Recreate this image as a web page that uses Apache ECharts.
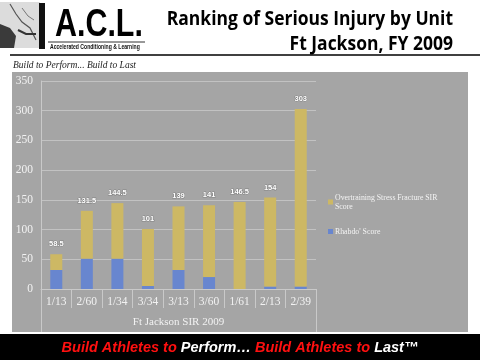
<!DOCTYPE html>
<html><head><meta charset="utf-8">
<script src="https://cdn.jsdelivr.net/npm/echarts@6/dist/echarts.min.js"></script>
<style>html,body{margin:0;padding:0;background:#fff}#c{width:480px;height:360px}</style>
</head><body><div id="c"></div>
<script>
const categories = ['1/13', '2/60', '1/34', '3/34', '3/13', '3/60', '1/61', '2/13', '2/39'];
const rhabdoScore = [32, 51, 51, 5, 32, 20, 0, 4, 4];
const overtrainingScore = [26.5, 80.5, 93.5, 96, 107, 121, 146.5, 150, 299];
const totalLabels = ['58.5', '131.5', '144.5', '101', '139', '141', '146.5', '154', '303'];
const groupLabel = ['Ft Jackson SIR 2009'];
const seriesNames = ['Overtraining Stress Fracture SIR Score', "Rhabdo' Score"];

const chart = echarts.init(document.getElementById('c'), null, {renderer: 'canvas'});
const lightLine = '#c9c9c9';
const serif = '"Liberation Serif", "DejaVu Serif", serif';

chart.setOption({
  backgroundColor: '#ffffff',
  animation: false,
  grid: {left: 41, right: 164, top: 81, bottom: 71, containLabel: false},
  legend: {
    orient: 'vertical', left: 323, top: 188, itemGap: 16,
    itemWidth: 5, itemHeight: 5, icon: 'rect',
    data: seriesNames,
    formatter: function (n) { return n === seriesNames[0] ? 'Overtraining Stress Fracture SIR\nScore' : n; },
    textStyle: {color: '#f4f4f4', fontSize: 7.8, lineHeight: 9, fontFamily: serif, padding: [0, 0, 0, -3]}
  },
  xAxis: [{
    type: 'category', data: categories, position: 'bottom',
    axisLine: {show: true, lineStyle: {color: lightLine, width: 1}},
    axisTick: {show: true, length: 19, lineStyle: {color: lightLine}},
    axisLabel: {color: '#f2f2f2', fontSize: 11.5, fontFamily: serif, margin: 7}
  }, {
    type: 'category', data: groupLabel, position: 'bottom',
    axisLine: {show: false},
    axisTick: {show: true, length: 43, lineStyle: {color: lightLine}},
    axisLabel: {color: '#f2f2f2', fontSize: 11, fontFamily: serif, margin: 28},
    splitLine: {show: false}
  }],
  yAxis: {
    type: 'value', min: 0, max: 350, interval: 50,
    axisLine: {show: true, lineStyle: {color: lightLine}},
    axisTick: {show: false},
    splitLine: {lineStyle: {color: '#c2c2c2', width: 1}},
    axisLabel: {color: '#f2f2f2', fontSize: 11.5, fontFamily: serif, margin: 8}
  },
  series: [{
    name: seriesNames[1], type: 'bar', stack: 'sir', data: rhabdoScore,
    barWidth: 12, itemStyle: {color: '#6886cf'}
  }, {
    name: seriesNames[0], type: 'bar', stack: 'sir', data: overtrainingScore,
    barWidth: 12, itemStyle: {color: '#cdb864'},
    label: {
      show: true, position: 'top', distance: 6,
      formatter: function (p) { return totalLabels[p.dataIndex]; },
      color: '#ffffff', fontSize: 7.5, fontWeight: 'bold',
      fontFamily: '"Liberation Sans", Arial, sans-serif',
      textBorderColor: 'rgba(90,90,90,0.45)', textBorderWidth: 1
    }
  }],
  graphic: [
    {type: 'rect', z: -100, shape: {x: 12, y: 72, width: 456, height: 260}, style: {fill: '#a5a5a5'}},
    {type: 'rect', z: 10, shape: {x: 0, y: 334, width: 480, height: 26}, style: {fill: '#000000'}},
    {type: 'text', z: 11, x: 240, y: 348, style: {
      text: '{r|Build Athletes to }{w|Perform… }{r|Build Athletes to }{w|Last™}',
      align: 'center', verticalAlign: 'middle',
      rich: {
        r: {fill: '#ff1010', font: 'italic bold 14.5px "Liberation Sans", Arial, sans-serif'},
        w: {fill: '#ffffff', font: 'italic bold 14.5px "Liberation Sans", Arial, sans-serif'}
      }
    }},
    {type: 'line', shape: {x1: 10, y1: 55, x2: 480, y2: 55}, style: {stroke: '#000', lineWidth: 1.5}},
    {type: 'text', x: 453, y: 20, scaleX: 0.92, style: {text: 'Ranking of Serious Injury by Unit', align: 'right', verticalAlign: 'middle',
      fill: '#000', font: 'bold 19px "Open Sans", "Noto Sans", sans-serif'}},
    {type: 'text', x: 453, y: 45, scaleX: 0.92, style: {text: 'Ft Jackson, FY 2009', align: 'right', verticalAlign: 'middle',
      fill: '#000', font: 'bold 19px "Open Sans", "Noto Sans", sans-serif'}},
    {type: 'text', x: 13, y: 65, style: {text: 'Build to Perform... Build to Last', align: 'left', verticalAlign: 'middle',
      fill: '#222', font: 'italic 9.5px "Liberation Serif", serif'}},
    {type: 'text', x: 55, y: 25, scaleX: 0.78, style: {text: 'A.C.L.', align: 'left', verticalAlign: 'middle',
      fill: '#000', font: 'bold 39px "Liberation Sans", Arial, sans-serif'}},
    {type: 'line', shape: {x1: 48, y1: 42, x2: 145, y2: 42}, style: {stroke: '#333', lineWidth: 1}},
    {type: 'text', x: 50, y: 47, scaleX: 0.68, style: {text: 'Accelerated Conditioning & Learning', align: 'left', verticalAlign: 'middle',
      fill: '#111', font: 'bold 7.5px "Liberation Sans", Arial, sans-serif'}},
    {type: 'rect', shape: {x: 0, y: 2, width: 40, height: 46}, style: {fill: '#dcdcdc'}},
    {type: 'polygon', shape: {points: [[0, 24], [10, 28], [16, 36], [14, 48], [0, 48]]}, style: {fill: '#3a3a3a'}},
    {type: 'polyline', shape: {points: [[10, 4], [16, 14], [22, 22], [30, 28], [36, 40]]}, style: {stroke: '#555', lineWidth: 1.2, fill: null}},
    {type: 'polyline', shape: {points: [[18, 30], [26, 34], [36, 34]]}, style: {stroke: '#333', lineWidth: 2, fill: null}},
    {type: 'polyline', shape: {points: [[22, 8], [28, 16], [34, 20]]}, style: {stroke: '#777', lineWidth: 1, fill: null}},
    {type: 'rect', shape: {x: 39, y: 3, width: 6, height: 46}, style: {fill: '#111'}}
  ]
});
</script>
</body></html>
